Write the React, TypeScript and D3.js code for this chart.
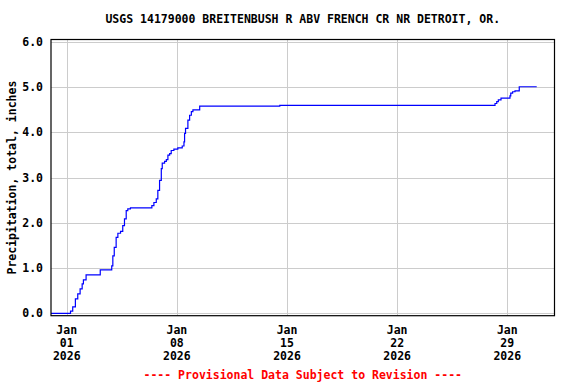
import React from "react";
import * as d3 from "d3";

const titleText = "USGS 14179000 BREITENBUSH R ABV FRENCH CR NR DETROIT, OR.";
const yAxisLabel = "Precipitation, total, inches";
const footerText = "---- Provisional Data Subject to Revision ----";

// days since 2026-01-01 00:00 and cumulative precipitation (inches)
const obsDays = [
  -1.0, 0.13, 0.24, 0.38, 0.55, 0.70, 0.85, 0.98, 1.06, 1.23, 2.13,
  2.86, 2.93, 3.02, 3.14, 3.25, 3.42, 3.56, 3.67, 3.78, 3.88, 4.05,
  5.41, 5.54, 5.69, 5.79, 5.90, 6.01, 6.07, 6.22, 6.33, 6.43, 6.54, 6.64,
  6.81, 7.06, 7.34, 7.45, 7.49, 7.55, 7.70, 7.81, 7.92, 8.02, 8.45,
  13.54, 27.01, 27.22, 27.33, 27.43, 27.60, 28.17, 28.22, 28.34, 28.49,
  28.76, 29.87,
];
const precipInches = [
  0.0, 0.0, 0.05, 0.14, 0.32, 0.43, 0.54, 0.65, 0.74, 0.85, 0.96,
  1.05, 1.27, 1.46, 1.68, 1.77, 1.81, 1.94, 2.09, 2.27, 2.31, 2.33,
  2.38, 2.45, 2.53, 2.72, 2.94, 3.20, 3.32, 3.36, 3.40, 3.50, 3.53, 3.60,
  3.63, 3.66, 3.70, 3.79, 3.98, 4.09, 4.27, 4.38, 4.46, 4.50, 4.58,
  4.60, 4.60, 4.64, 4.68, 4.72, 4.76, 4.81, 4.87, 4.90, 4.92,
  5.01, 5.01,
];

const yTicks = [0, 1, 2, 3, 4, 5, 6];
// tick dates (day of January 2026)
const xTickDates = [1, 8, 15, 22, 29];
const xTickMonth = ["Jan", "Jan", "Jan", "Jan", "Jan"];
const xTickDay = ["01", "08", "15", "22", "29"];
const xTickYear = ["2026", "2026", "2026", "2026", "2026"];

const W = 576;
const H = 384;
const left = 51;
const right = 554.5;
const top = 39.5;
const bottom = 315.7;

const base = new Date(2026, 0, 1, 0, 0, 0);
const toDate = (d: number) => new Date(base.getTime() + d * 86400000);

export default function App() {
  const x = d3
    .scaleTime()
    .domain([new Date(2025, 11, 31), new Date(2026, 1, 1)])
    .range([left, right]);
  const y = d3.scaleLinear().domain([-0.053, 6.055]).range([bottom, top]);

  const pts: [Date, number][] = obsDays.map((d, i) => [toDate(d), precipInches[i]]);
  const line = d3
    .line<[Date, number]>()
    .x((p) => x(p[0]))
    .y((p) => y(p[1]))
    .curve(d3.curveStepAfter);

  const font = "'DejaVu Sans Mono', monospace";
  const cx = (left + right) / 2;
  const tickX = (dom: number) => x(new Date(2026, 0, dom));

  return (
    <svg
      width={W}
      height={H}
      style={{ position: "absolute", left: 0, top: 0, background: "#fff" }}
      fontFamily={font}
      fontWeight="bold"
    >
      <rect x={0} y={0} width={W} height={H} fill="#fff" />
      <text x={cx} y={23} textAnchor="middle" fontSize={11.5} fill="#000">
        {titleText}
      </text>
      {yTicks.map((t) => (
        <line
          key={"gy" + t}
          x1={left}
          x2={right}
          y1={Math.round(y(t)) + 0.5}
          y2={Math.round(y(t)) + 0.5}
          stroke="#cccccc"
          strokeWidth={1}
        />
      ))}
      {xTickDates.map((d) => (
        <line
          key={"gx" + d}
          x1={Math.round(tickX(d)) + 0.5}
          x2={Math.round(tickX(d)) + 0.5}
          y1={top}
          y2={bottom}
          stroke="#cccccc"
          strokeWidth={1}
        />
      ))}
      <path d={line(pts) || ""} fill="none" stroke="#0000ff" strokeWidth={1.2} />
      <rect
        x={left}
        y={top}
        width={right - left}
        height={bottom - top}
        fill="none"
        stroke="#000"
        strokeWidth={1.2}
      />
      {yTicks.map((t) => (
        <text
          key={"ty" + t}
          x={43}
          y={y(t) + 4}
          textAnchor="end"
          fontSize={11.5}
          fill="#000"
        >
          {d3.format(".1f")(t)}
        </text>
      ))}
      {xTickDates.map((d, i) => {
        const px = tickX(d);
        return (
          <g key={"tx" + d}>
            <text x={px} y={334} textAnchor="middle" fontSize={11.5} fill="#000">
              {xTickMonth[i]}
            </text>
            <text x={px} y={347} textAnchor="middle" fontSize={11.5} fill="#000">
              {xTickDay[i]}
            </text>
            <text x={px} y={360} textAnchor="middle" fontSize={11.5} fill="#000">
              {xTickYear[i]}
            </text>
          </g>
        );
      })}
      <text
        transform={`translate(16, ${(top + bottom) / 2}) rotate(-90)`}
        textAnchor="middle"
        fontSize={11.5}
        fill="#000"
      >
        {yAxisLabel}
      </text>
      <text x={cx} y={379} textAnchor="middle" fontSize={11.5} fill="#ff0000">
        {footerText}
      </text>
    </svg>
  );
}
